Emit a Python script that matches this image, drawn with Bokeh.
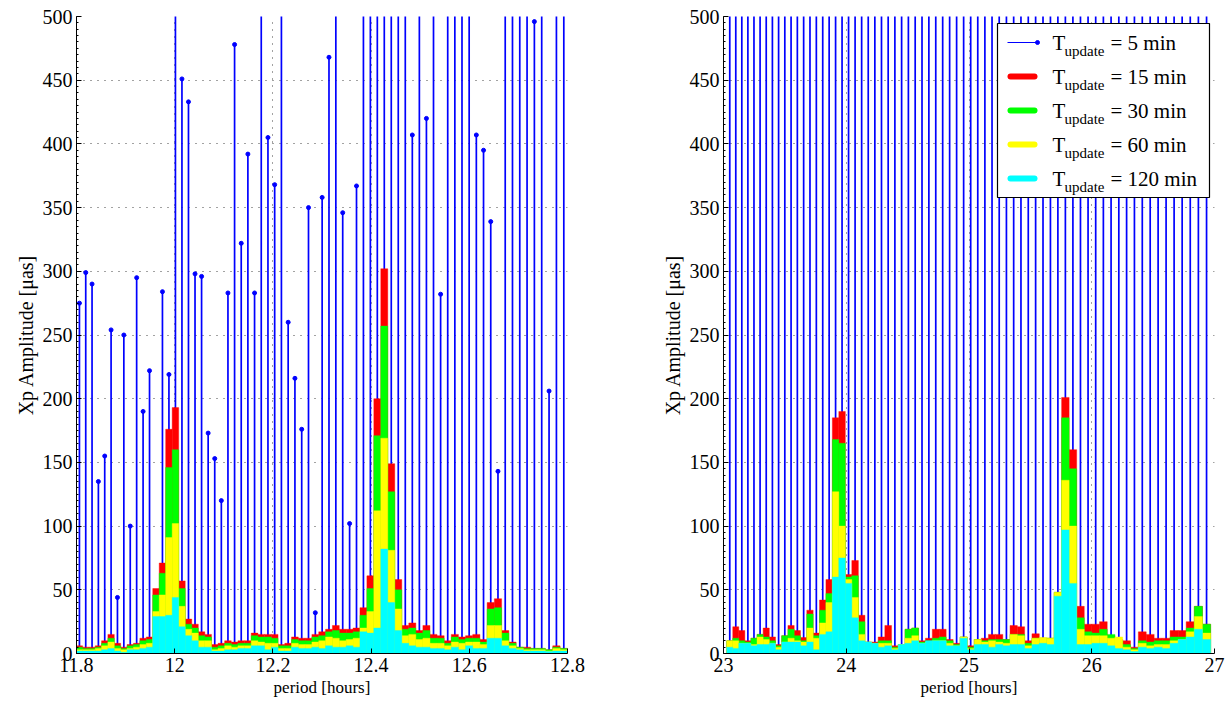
import numpy as np
from bokeh.plotting import figure
from bokeh.layouts import row
from bokeh.models import Range1d, FixedTicker, PrintfTickFormatter
from bokeh.core.properties import value
from bokeh.embed import file_html
from bokeh.resources import INLINE

FONT = "Liberation Serif"

# Periodogram line grid (cycles per hour); periods are 1/frequency
freq_step = 9.2e-5
semi_first_freq = 0.0847029
diur_first_freq = 0.043382

update_minutes = [5, 15, 30, 60, 120]
series_colors = ["#0000ff", "#ff0000", "#00ff00", "#ffff00", "#00ffff"]

y_ticks = [0, 50, 100, 150, 200, 250, 300, 350, 400, 450, 500]
semi_ticks = [11.8, 12.0, 12.2, 12.4, 12.6, 12.8]
diur_ticks = [23, 24, 25, 26, 27]

# Semidiurnal band, Xp amplitude [uas] per update interval
semi_5min = [275, 299, 290, 135, 155, 254, 44, 250, 100, 295,
             190, 222, 30, 284, 219, 760, 451, 433, 298, 296,
             173, 153, 120, 283, 478, 322, 392, 283, 690, 405,
             368, 540, 260, 216, 176, 350, 32, 358, 468, 610,
             346, 102, 367, 820, 950, 1300, 1700, 1100, 700, 640,
             407, 580, 420, 600, 282, 700, 620, 590, 680, 407,
             395, 339, 143, 610, 720, 650, 580, 496, 600, 206,
             630, 700]
semi_15min = [6, 5, 5, 6, 10, 15, 8, 5, 7, 8,
              12, 13, 51, 71, 176, 193, 57, 27, 23, 17,
              15, 7, 8, 10, 9, 10, 10, 16, 15, 15,
              15, 7, 8, 13, 12, 12, 15, 17, 19, 22,
              19, 19, 20, 36, 61, 200, 302, 149, 58, 22,
              24, 18, 22, 15, 14, 10, 15, 13, 14, 15,
              11, 40, 43, 18, 9, 5, 5, 4, 4, 3,
              6, 4]
semi_30min = [5, 4, 4, 5, 8, 12, 6, 4, 6, 7,
              10, 11, 46, 63, 146, 160, 51, 23, 20, 14,
              13, 5, 6, 8, 7, 8, 8, 14, 13, 13,
              12, 6, 6, 11, 10, 10, 13, 14, 17, 18,
              16, 16, 17, 30, 51, 171, 257, 127, 50, 19,
              20, 16, 18, 12, 12, 8, 13, 11, 12, 12,
              9, 35, 36, 16, 8, 5, 4, 4, 4, 3,
              5, 4]
semi_60min = [3, 3, 3, 4, 6, 9, 4, 3, 4, 5,
              7, 8, 33, 46, 91, 102, 37, 19, 16, 10,
              10, 3, 4, 6, 5, 6, 6, 10, 9, 8,
              8, 4, 4, 8, 7, 7, 9, 10, 13, 12,
              10, 11, 12, 20, 33, 112, 169, 81, 35, 14,
              15, 11, 12, 8, 8, 6, 9, 8, 9, 9,
              7, 22, 22, 10, 6, 4, 3, 3, 3, 2,
              4, 3]
semi_120min = [2, 2, 2, 2, 3, 4, 2, 1, 3, 3,
               4, 5, 29, 29, 30, 44, 21, 14, 10, 5,
               5, 2, 2, 3, 3, 4, 4, 6, 6, 3,
               5, 2, 2, 5, 4, 4, 5, 4, 6, 5,
               5, 6, 5, 17, 16, 20, 82, 40, 18, 8,
               6, 5, 5, 4, 4, 3, 5, 3, 6, 4,
               4, 12, 12, 6, 4, 3, 2, 2, 2, 1.5,
               2, 2]

# Diurnal band
diur_5min = [1450, 1620, 1380, 1700, 1520, 1260, 1840, 1330, 1590, 1410,
             1760, 1480, 1350, 1690, 1570, 1900, 2600, 3400, 3700, 2900,
             2100, 1650, 1430, 1520, 1380, 1610, 1470, 1350, 1560, 1720,
             1390, 1480, 1640, 1530, 1410, 1580, 1360, 1490, 1620, 1440,
             1380, 1550, 1470, 1690, 1520, 1400, 1580, 1730, 1860, 2300,
             3300, 3000, 2200, 1750, 1540, 1620, 1450, 1380, 1500, 1420,
             1600, 1470, 1390, 1530, 1660, 1480, 1570, 1820, 1610]
diur_15min = [10, 21, 18, 10, 12, 15, 20, 13, 7, 14,
              22, 18, 12.5, 34, 16, 42, 58, 185, 190, 62,
              73, 30, 9, 9, 13, 22, 6, 7, 19, 20,
              10, 12, 19, 19, 11, 8, 13, 6, 11, 12,
              15, 15, 11, 22, 21, 10, 15.5, 12, 12, 48,
              201, 160, 37, 23, 23, 25, 14, 11, 10, 5,
              17, 15, 12, 12, 18, 18, 25, 37, 23]
diur_30min = [10, 12, 10, 9, 12, 15, 13, 10, 6, 14,
              19, 14, 10, 31, 14, 34, 47, 168, 165, 60,
              61, 25, 9, 8, 10, 10, 5, 7, 19, 20,
              9, 10, 12, 13, 10, 7, 13, 5, 11, 10,
              11, 11, 11, 15, 15, 8, 12, 12, 12, 48,
              185, 145, 28, 17, 16, 19, 15, 10, 7, 4,
              10, 9, 10, 10, 13, 13, 20, 37, 23]
diur_60min = [10, 10, 8, 8, 7, 13, 11, 8, 5, 9,
              12, 10, 9, 20, 12, 24, 40, 127, 100, 58,
              44, 15, 9, 8, 8, 8, 4, 7, 12, 14,
              8, 9, 10, 10, 8, 6, 13, 4, 11, 9,
              10, 9, 8, 15, 14, 6, 12, 12.5, 12, 48,
              136, 100, 19, 14, 14, 14, 12, 13, 5, 3,
              8, 6, 7, 7, 10, 11, 17, 29, 16]
diur_120min = [5, 4, 8, 8, 6, 7, 7, 8, 3, 9,
               9, 9, 6, 9, 3, 15, 17, 60, 75, 55,
               28, 10, 9, 8, 5, 6, 3, 7, 8, 10,
               8, 10, 10, 10, 6, 6, 12, 3, 7, 7,
               5, 7, 6, 7, 7, 4, 7, 8, 7, 45,
               97, 55, 7, 7, 8, 8, 6, 4, 3, 1.5,
               5, 4, 5, 4, 8, 11, 13, 19, 11]


def style_axis(ax, label, label_size):
    ax.axis_label = label
    ax.axis_line_color = "black"
    ax.axis_line_width = 1
    ax.major_tick_in = 5
    ax.major_tick_out = 0
    ax.minor_tick_in = 2
    ax.minor_tick_out = 0
    ax.major_tick_line_color = "black"
    ax.minor_tick_line_color = "black"
    ax.major_label_text_font = FONT
    ax.major_label_text_font_size = "20px"
    ax.major_label_text_color = "black"
    ax.major_label_standoff = 4
    ax.axis_label_text_font = FONT
    ax.axis_label_text_font_size = label_size
    ax.axis_label_text_font_style = "normal"
    ax.axis_label_text_color = "black"
    ax.axis_label_standoff = 3
    ax.formatter = PrintfTickFormatter(format="%g")


def build_panel(first_freq, amp5, bar_series, x_start, x_end, x_ticks,
                border_left, border_right):
    n = len(amp5)
    freq = first_freq - freq_step * np.arange(n)
    period = 1.0 / freq
    bar_width = period ** 2 * freq_step

    p = figure(width=616, height=705,
               x_range=Range1d(x_start, x_end), y_range=Range1d(0, 500),
               output_backend="svg", toolbar_location=None,
               min_border_left=border_left, min_border_right=border_right,
               min_border_top=16, min_border_bottom=52)
    p.outline_line_color = None
    p.background_fill_color = "white"
    p.border_fill_color = "white"

    # 5-minute update: stem lines with dot heads
    p.segment(x0=period, y0=np.zeros(n), x1=period, y1=amp5,
              line_color=series_colors[0], line_width=1.7)
    p.scatter(x=period, y=amp5, size=4, marker="circle",
              fill_color=series_colors[0], line_color=series_colors[0])

    # longer update intervals: overlaid bars, largest first
    for vals, col in zip(bar_series, series_colors[1:]):
        p.vbar(x=period, width=bar_width, top=vals, bottom=0,
               fill_color=col, line_color=col, line_width=0.4)

    xa = p.xaxis[0]
    ya = p.yaxis[0]
    xa.ticker = FixedTicker(ticks=x_ticks)
    ya.ticker = FixedTicker(ticks=y_ticks, minor_ticks=list(range(0, 501, 5)))
    style_axis(xa, "period [hours]", "17px")
    style_axis(ya, "Xp Amplitude [\u03bcas]", "20px")

    p.grid.grid_line_color = "#444444"
    p.grid.grid_line_dash = "1 6"
    p.grid.grid_line_width = 1
    return p


left = build_panel(semi_first_freq, semi_5min,
                   [semi_15min, semi_30min, semi_60min, semi_120min],
                   11.8, 12.8, semi_ticks, 76, 49)
right = build_panel(diur_first_freq, diur_5min,
                    [diur_15min, diur_30min, diur_60min, diur_120min],
                    23, 27, diur_ticks, 107, 18)

# Legend box (upper right of the diurnal panel)
px_per_hour = 491.0 / 4.0
px_per_uas = 637.0 / 500.0


def lx(px):
    return 23 + (px - 723) / px_per_hour


def ly(py):
    return (653 - py) / px_per_uas


right.quad(left=lx(997), right=lx(1209), bottom=ly(197), top=ly(23),
           fill_color="white", line_color="black", line_width=1.2)

row_y = [ly(42 + 34 * i) for i in range(len(update_minutes))]
sub_drop = 8.6 / px_per_uas

# sample marks
right.segment(x0=[lx(1007)], y0=[row_y[0]], x1=[lx(1037)], y1=[row_y[0]],
              line_color=series_colors[0], line_width=1.2)
right.scatter(x=[lx(1037)], y=[row_y[0]], size=4, marker="circle",
              fill_color=series_colors[0], line_color=series_colors[0])
for i in range(1, len(update_minutes)):
    right.segment(x0=[lx(1010)], y0=[row_y[i]], x1=[lx(1034)], y1=[row_y[i]],
                  line_color=series_colors[i], line_width=6, line_cap="round")

right.text(x=[lx(1052)] * len(update_minutes), y=row_y,
           text=["T"] * len(update_minutes),
           text_font=value(FONT), text_font_size=value("21px"),
           text_baseline="alphabetic", text_align="left", text_color="black")
right.text(x=[lx(1064)] * len(update_minutes), y=[v - sub_drop for v in row_y],
           text=["update"] * len(update_minutes),
           text_font=value(FONT), text_font_size=value("15px"),
           text_baseline="alphabetic", text_align="left", text_color="black")
right.text(x=[lx(1110)] * len(update_minutes), y=row_y,
           text=["= %d min" % m for m in update_minutes],
           text_font=value(FONT), text_font_size=value("21px"),
           text_baseline="alphabetic", text_align="left", text_color="black")

layout = row(left, right)
open("out.html", "w").write(file_html(layout, INLINE))
